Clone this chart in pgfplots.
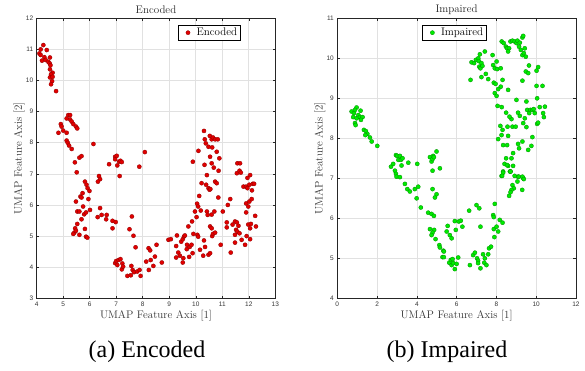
\documentclass[border=0pt]{standalone}
\usepackage{fontspec}
\usepackage{pgfplots}
\pgfplotsset{compat=1.18}
\newfontfamily\capfont{Liberation Serif}
\newfontfamily\tickfont{Liberation Sans}
\definecolor{encfill}{RGB}{225,0,0}
\definecolor{encedge}{RGB}{140,0,0}
\definecolor{impfill}{RGB}{0,235,0}
\definecolor{impedge}{RGB}{0,140,0}
\definecolor{gridc}{RGB}{225,225,225}
\pgfplotsset{
  umap/.style={
    scale only axis, width=238.6pt, height=280pt, anchor=south west,
    axis line style={line width=0.6pt, black!85},
    tick align=inside, tick pos=both, major tick length=2.5pt,
    every tick/.style={black!85, line width=0.5pt},
    grid=major, major grid style={gridc, line width=0.6pt},
    /pgf/number format/assume math mode=true,
    tick label style={font=\tickfont\fontsize{6.5}{7}\selectfont, black!80},
    label style={font=\fontsize{11}{13}\selectfont, black!80},
    every axis title shift=0pt,
    title style={font=\fontsize{11}{13}\selectfont, black!85, at={(axis description cs:0.5,1)}, anchor=base, yshift=5.3pt},
    xlabel style={at={(axis description cs:0.5,0)}, anchor=base, yshift=-20pt},
    ylabel style={at={(axis description cs:0,0.5)}, anchor=base, yshift=14.7pt},
    legend style={font=\fontsize{11}{13}\selectfont, draw=black, line width=0.6pt, inner xsep=1.5pt, inner ysep=0.8pt, row sep=0pt},
    legend cell align=left,
    legend image code/.code={\path[draw=none, fill=none] (0pt,0pt) rectangle (15.3pt,0pt); \draw[#1, only marks] plot coordinates {(8.7pt,0pt)};},
    xlabel={UMAP Feature Axis [1]}, ylabel={UMAP Feature Axis [2]},
  }
}
\begin{document}
\begin{tikzpicture}
\begin{axis}[umap, at={(36.7pt,72.7pt)},
  xmin=4, xmax=13, ymin=3, ymax=12, xtick={4,...,13}, ytick={3,...,12},
  title={Encoded},
  legend style={at={(0.856,0.976)}, anchor=north east}]
\addplot[only marks, mark=*, mark size=2.1pt, mark options={fill=encfill, draw=encedge, line width=0.3pt}] coordinates {
(4.10,10.87) (4.15,11.0) (4.25,11.14) (4.15,10.82) (4.2,10.64) (4.29,10.75) (4.38,10.98) (4.34,10.66)
(4.44,10.6) (4.5,10.74) (4.49,10.55) (4.52,10.49) (4.5,10.36) (4.6,10.25) (4.54,10.2) (4.5,10.1)
(4.6,10.12) (4.58,9.98) (4.54,9.88) (4.73,9.66) (4.82,8.32) (4.91,8.6) (4.94,8.52) (5.0,8.39)
(5.13,8.78) (5.19,8.89) (5.26,8.89) (5.26,8.75) (5.32,8.68) (5.38,8.6) (5.48,8.52) (5.53,8.46)
(5.13,8.07) (5.17,8.0) (5.22,7.91) (5.32,7.8) (5.13,8.32) (5.44,7.37) (5.51,7.05) (5.61,7.52)
(5.69,7.57) (6.14,7.96) (6.35,6.93) (6.39,6.83) (6.73,7.31) (6.96,7.55) (6.96,7.47) (7.02,7.58)
(7.04,7.27) (7.11,7.39) (7.16,7.42) (7.21,7.38) (7.13,6.93) (7.87,7.23) (8.08,7.7)
(9.89,7.39) (10.1,7.74) (10.31,8.38) (10.34,8.11) (10.38,7.98) (10.33,7.29) (10.42,6.96) (10.48,7.87)
(10.53,8.22) (10.54,7.55) (10.6,8.11) (10.65,8.17) (10.6,7.34) (10.62,7.85) (10.68,7.2) (10.73,8.11)
(10.83,8.11) (10.79,7.71) (10.89,7.5) (10.86,7.1) (11.55,7.02) (11.57,7.34) (11.67,7.34) (11.65,7.1)
(11.7,7.04) (11.95,6.87) (12.05,6.96)
(5.48,6.11) (5.53,5.79) (5.61,5.79) (5.45,5.25) (5.42,5.11) (5.48,5.17) (5.38,5.07) (5.53,5.39)
(5.61,5.04) (5.69,5.54) (5.65,6.27) (5.73,6.38) (5.69,6.24) (5.75,5.95) (5.79,5.70) (5.82,6.75)
(5.86,5.76) (5.88,6.65) (5.92,6.54) (5.95,6.19) (5.99,6.45) (6.01,5.84) (5.82,5.23) (5.86,4.98)
(5.91,4.95) (6.30,5.61) (6.31,6.75) (6.39,5.9) (6.45,5.68) (6.62,5.54) (6.64,5.68)
(6.86,5.49) (6.86,5.25) (6.98,5.45) (6.96,4.13) (7.0,4.2) (7.04,4.07) (7.09,4.23) (7.16,4.26)
(7.23,4.12) (7.21,3.93) (7.26,4.02) (7.42,3.72) (7.50,5.22) (7.55,3.74) (7.57,4.04) (7.59,5.63)
(7.62,3.91) (7.65,5.01) (7.67,3.84) (7.73,4.64) (7.79,3.86) (7.88,3.91) (7.92,3.72) (8.13,4.18)
(8.22,4.61) (8.28,4.54) (8.23,3.91) (8.30,4.23) (8.4,4.04) (8.46,4.34) (8.52,4.72) (8.72,4.15)
(8.97,4.88) (9.06,4.9) (9.26,4.68) (9.29,5.02) (9.26,4.31) (9.34,4.47) (9.40,4.37) (9.45,4.82)
(9.51,4.9) (9.53,4.29) (9.56,4.99) (9.59,5.02) (9.51,4.15) (9.66,4.58) (9.67,4.72) (9.72,5.31)
(9.75,4.33) (9.77,4.65) (9.84,4.72) (9.88,4.45) (9.86,5.47) (9.91,5.07) (9.97,5.79) (10.03,5.61)
(10.05,6.04) (10.09,5.95) (10.06,5.04) (10.09,4.98) (10.13,6.29) (10.16,4.56) (10.19,5.82) (10.22,6.70)
(10.31,4.86) (10.28,4.37) (10.35,4.65) (10.39,6.65) (10.42,5.79) (10.45,5.68) (10.48,6.54) (10.48,4.4)
(10.52,6.49) (10.54,5.31) (10.54,4.45) (10.55,6.51) (10.6,5.69) (10.6,5.25) (10.62,5.0) (10.65,5.07)
(10.73,5.11) (10.73,6.75) (10.7,5.79) (10.79,6.70) (10.85,6.24) (10.94,4.72) (11.02,5.79) (11.17,5.44)
(11.17,5.28) (11.21,6.0) (11.30,6.19) (11.32,4.47) (11.39,5.37) (11.48,5.47) (11.48,5.04) (11.48,4.79)
(11.52,5.2) (11.55,5.44) (11.57,5.14) (11.61,5.33) (11.65,5.09) (11.73,4.88) (11.8,6.59) (11.86,4.72)
(11.9,6.59) (11.9,6.05) (11.9,5.76) (11.92,5.0) (11.95,6.54) (11.98,5.95) (11.98,5.37) (12.02,6.11)
(12.02,6.65) (12.05,5.25) (12.05,4.9) (12.08,5.39) (12.11,6.19) (12.12,6.47) (12.15,6.68) (12.2,6.68)
(12.24,5.65) (12.27,5.31)
};
\addlegendentry{Encoded}
\end{axis}
\begin{axis}[umap, at={(337.3pt,72.7pt)},
  xmin=0, xmax=12, ymin=4, ymax=11, xtick={0,2,...,12}, ytick={4,...,11},
  title={Impaired},
  legend style={at={(0.491,0.976)}, anchor=north}]
\addplot[only marks, mark=*, mark size=2.1pt, mark options={fill=impfill, draw=impedge, line width=0.3pt}] coordinates {
(0.72,8.67) (0.84,8.63) (0.97,8.77) (0.89,8.71) (0.80,8.53) (0.97,8.5) (1.06,8.58) (1.14,8.53)
(1.17,8.69) (1.27,8.53) (1.19,8.46) (0.89,8.38) (0.92,8.33) (1.34,8.21) (1.44,8.18) (1.51,8.11)
(1.41,8.08) (1.64,8.02) (1.73,7.92) (2.01,7.81)
(2.70,7.29) (2.81,7.36) (2.95,7.58) (3.01,7.56) (3.15,7.56) (3.07,7.46) (3.2,7.46) (3.28,7.5)
(3.23,7.32) (2.90,7.19) (2.95,7.11) (3.57,7.39) (4.02,7.36) (4.66,7.53) (4.74,7.42) (4.79,7.48)
(4.82,7.56) (4.86,7.53) (4.99,7.67) (4.79,7.19) (5.16,7.25)
(6.70,9.46) (6.75,9.9) (6.88,9.88) (6.97,9.96) (7.09,10.0) (7.17,10.1) (7.12,9.93) (7.14,9.79)
(7.2,9.75) (7.25,9.88) (7.30,9.81) (7.42,10.17) (7.25,9.53) (7.47,9.61) (7.59,9.48) (7.81,10.08)
(7.84,9.83) (7.87,9.39) (7.92,9.75) (8.01,9.92) (8.04,9.73) (7.96,9.36) (7.92,9.13) (8.01,9.06)
(8.22,9.29) (8.31,9.46) (8.22,9.75) (8.27,10.42) (8.37,10.38) (8.48,10.29) (8.54,10.25) (8.64,10.25)
(8.59,10.17) (8.71,10.42) (8.81,10.44) (8.92,10.42) (9.01,10.38) (9.06,10.44) (9.18,10.39) (9.14,10.29)
(9.23,10.21) (9.31,10.52) (9.35,10.56) (9.43,10.25) (9.31,10.08) (9.38,10.13) (9.48,10.04) (9.31,9.44)
(9.48,9.67) (9.6,9.63) (9.64,9.82) (10.02,9.69) (10.1,9.78) (8.06,8.81) (8.27,8.78) (8.09,9.23)
(8.59,9.21) (9.01,8.96) (9.09,8.64) (9.51,8.92) (9.55,8.71) (9.65,8.63) (9.71,8.71) (9.81,8.71)
(9.93,8.63) (9.88,8.73) (10.02,9.31) (10.05,9.0) (10.05,8.36) (10.1,8.39) (10.18,8.78) (10.32,9.31)
(10.35,8.63) (10.39,8.53) (10.44,8.79) (9.18,8.56) (9.43,8.5) (9.35,8.38) (8.76,8.48) (8.66,8.54)
(8.49,8.64) (8.2,8.31) (8.31,8.21) (8.26,8.08) (8.09,7.98) (8.34,7.83) (8.54,7.83) (8.56,8.29)
(8.81,8.29) (8.97,8.29) (8.59,8.06) (9.09,7.86) (9.14,7.75) (9.31,7.92) (9.51,8.28) (9.6,7.71)
(9.76,7.81) (9.81,8.03) (8.84,7.63) (8.76,7.5) (8.49,7.5) (8.41,7.36) (8.59,7.31) (8.71,7.17)
(8.34,7.17) (8.26,7.06) (9.09,7.04) (9.35,7.0)
(2.98,7.04) (3.15,7.03) (3.40,6.86) (3.52,6.73) (3.65,6.67) (3.90,6.73) (4.07,6.79) (3.99,6.5)
(4.2,6.27) (4.57,6.14) (4.74,6.11) (4.86,6.06) (4.79,6.73) (4.99,6.6) (4.91,6.52) (4.66,5.73)
(4.87,5.71) (4.79,5.64) (4.74,5.58) (4.94,5.48) (5.13,5.33) (5.16,5.27) (5.33,5.19) (5.36,5.17)
(5.29,5.03) (5.36,5.03) (5.5,5.67) (5.55,5.81) (5.66,5.58) (5.75,5.5) (5.63,4.89) (5.71,4.96)
(5.8,4.98) (5.75,4.83) (5.83,4.88) (5.91,4.73) (6.0,4.86) (5.91,5.93) (5.96,5.71) (6.11,5.92)
(6.21,5.94) (6.29,5.79) (6.08,5.02) (6.63,6.19) (6.67,4.83) (6.83,5.08) (6.92,5.14) (7.0,6.33)
(7.14,6.25) (7.03,5.0) (7.08,4.94) (7.08,4.88) (7.2,5.79) (7.2,4.75) (7.33,5.1) (7.42,5.0)
(7.39,4.89) (7.5,4.83) (7.59,5.1) (7.63,5.25) (7.73,5.29) (7.84,6.08) (7.87,6.03) (7.87,5.73)
(7.9,5.53) (7.92,6.36) (8.01,5.79) (8.09,5.67) (8.17,5.96) (8.31,5.89) (8.34,7.14) (8.29,7.06)
(8.54,7.33) (8.68,7.17) (8.71,7.17) (8.84,7.31) (8.92,7.06) (9.06,6.92) (9.13,7.04) (9.31,7.04)
(9.38,6.98) (8.81,6.83) (8.88,6.75) (8.76,6.71) (8.71,6.65) (8.64,6.56) (9.3,6.71)
};
\addlegendentry{Impaired}
\end{axis}
\node[anchor=base, font=\capfont\fontsize{24}{28}\selectfont] at (147pt,13pt) {(a) Encoded};
\node[anchor=base, font=\capfont\fontsize{24}{28}\selectfont] at (447pt,13pt) {(b) Impaired};
\pgfresetboundingbox
\path[use as bounding box] (0pt,0pt) rectangle (585pt,371pt);
\end{tikzpicture}
\end{document}
